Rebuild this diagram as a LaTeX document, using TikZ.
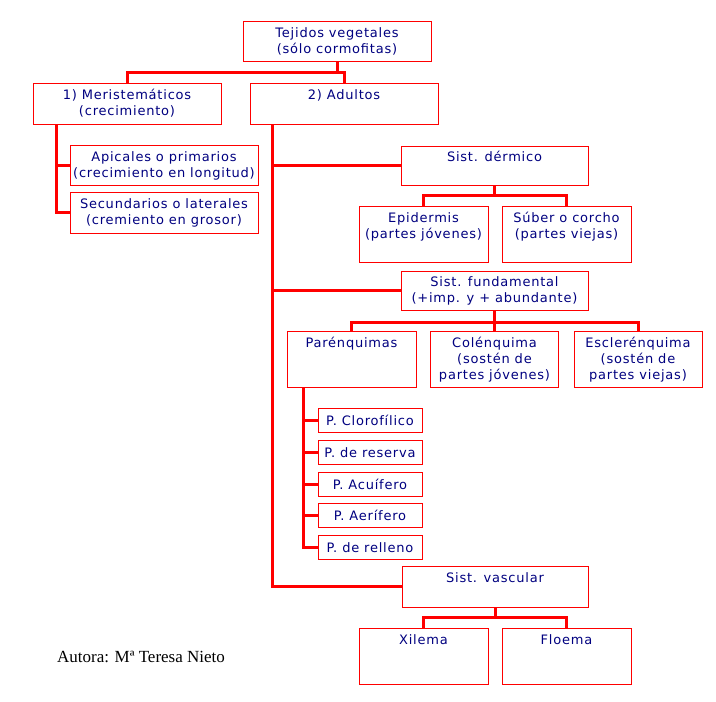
\documentclass[tikz,border=0pt]{standalone}
\usepackage{fontspec}
\newfontfamily\boxfont{DejaVu Sans}[LetterSpace=6]
\newfontfamily\authorfont{Liberation Serif}
\usepackage{tikz}
\usetikzlibrary{positioning}
\definecolor{linkred}{RGB}{255,0,0}
\definecolor{textnavy}{RGB}{0,0,128}

\begin{document}
\begin{tikzpicture}[x=1pt,y=-1pt,
  box/.style={draw=linkred,line width=1pt,fill=white,inner sep=0pt},
  txt/.style={text=textnavy,font=\boxfont\fontsize{13}{16}\selectfont,align=center,inner sep=0pt},
  link/.style={draw=linkred,line width=3pt}]
\useasboundingbox[fill=white] (0,0) rectangle (716,702);

% top levels
\node[box,minimum width=188pt,minimum height=40pt] (root) at (337,41) {};
\node[txt,below=6.5pt of root.north] (rootT) {Tejidos vegetales\\(sólo cormofitas)};
\node[box,minimum width=188pt,minimum height=41pt] (meri) at (127,103.5) {};
\node[txt,below=6.5pt of meri.north] (meriT) {1) Meristemáticos\\(crecimiento)};
\node[box,minimum width=188pt,minimum height=41pt] (adult) at (344,103.5) {};
\node[txt,below=6.5pt of adult.north] (adultT) {2) Adultos};

% meristematicos
\node[box,minimum width=188pt,minimum height=40pt] (apic) at (164,165) {};
\node[txt,below=6.5pt of apic.north] (apicT) {Apicales o primarios\\(crecimiento en longitud)};
\node[box,minimum width=188pt,minimum height=41pt] (secu) at (164,212.5) {};
\node[txt,below=6.5pt of secu.north] (secuT) {Secundarios o laterales\\(cremiento en grosor)};

% sistema dermico
\node[box,minimum width=187pt,minimum height=39pt] (derm) at (494.5,165.5) {};
\node[txt,below=5.5pt of derm.north] (dermT) {Sist. dérmico};
\node[box,minimum width=129pt,minimum height=56pt] (epid) at (423.5,234) {};
\node[txt,below=6.5pt of epid.north] (epidT) {Epidermis\\(partes jóvenes)};
\node[box,minimum width=129pt,minimum height=56pt] (suber) at (566.5,234) {};
\node[txt,below=6.5pt of suber.north] (suberT) {Súber o corcho\\(partes viejas)};

% sistema fundamental
\node[box,minimum width=187pt,minimum height=39pt] (fund) at (494.5,290.5) {};
\node[txt,below=5.5pt of fund.north] (fundT) {Sist. fundamental\\(+imp. y + abundante)};
\node[box,minimum width=129pt,minimum height=56pt] (parenq) at (351.5,359) {};
\node[txt,below=6.5pt of parenq.north] (parenqT) {Parénquimas};
\node[box,minimum width=128pt,minimum height=56pt] (colen) at (494.5,359) {};
\node[txt,below=6.5pt of colen.north] (colenT) {Colénquima\\(sostén de\\partes jóvenes)};
\node[box,minimum width=128pt,minimum height=56pt] (escler) at (638,359) {};
\node[txt,below=6.5pt of escler.north] (esclerT) {Esclerénquima\\(sostén de\\partes viejas)};

% parenquimas
\node[box,txt,draw=linkred,minimum width=104pt,minimum height=24pt] (pclor) at (370,420.5) {P. Clorofílico};
\node[box,txt,draw=linkred,minimum width=104pt,minimum height=24pt] (pres) at (370,452.25) {P. de reserva};
\node[box,txt,draw=linkred,minimum width=104pt,minimum height=24pt] (pacu) at (370,484) {P. Acuífero};
\node[box,txt,draw=linkred,minimum width=104pt,minimum height=24pt] (paer) at (370,515.75) {P. Aerífero};
\node[box,txt,draw=linkred,minimum width=104pt,minimum height=24pt] (prell) at (370,547.5) {P. de relleno};

% sistema vascular
\node[box,minimum width=186pt,minimum height=41pt] (vasc) at (495,586.5) {};
\node[txt,below=6.5pt of vasc.north] (vascT) {Sist. vascular};
\node[box,minimum width=129pt,minimum height=56pt] (xilem) at (423.5,656) {};
\node[txt,below=6.5pt of xilem.north] (xilemT) {Xilema};
\node[box,minimum width=129pt,minimum height=56pt] (floem) at (566.5,656) {};
\node[txt,below=6.5pt of floem.north] (floemT) {Floema};

\node[font=\authorfont\fontsize{17}{19}\selectfont,inner sep=0pt] (author) at (141,657) {Autora: Mª Teresa Nieto};

% connectors
\coordinate (j0) at ([yshift=-11pt]root.south);
\draw[link] (root.south) -- (j0);
\draw[link] (meri.north) |- (j0) -| (adult.north);
\coordinate (m0) at ([xshift=24pt]meri.south west);
\draw[link] (m0) |- (apic.west);
\draw[link] (m0) |- (secu.west);
\coordinate (a0) at ([xshift=23pt]adult.south west);
\draw[link] (a0) |- (derm.west);
\draw[link] (a0) |- (fund.west);
\draw[link] (a0) |- (vasc.west);
\coordinate (d0) at ([yshift=-10pt]derm.south);
\draw[link] (derm.south) -- (d0);
\draw[link] (epid.north) |- (d0) -| (suber.north);
\coordinate (f0) at ([yshift=-12pt]fund.south);
\draw[link] (fund.south) -- (colen.north);
\draw[link] (parenq.north) |- (f0) -| (escler.north);
\coordinate (p0) at ([xshift=17pt]parenq.south west);
\draw[link] (p0) |- (pclor.west);
\draw[link] (p0) |- (pres.west);
\draw[link] (p0) |- (pacu.west);
\draw[link] (p0) |- (paer.west);
\draw[link] (p0) |- (prell.west);
\coordinate (v0) at ([yshift=-10pt]vasc.south);
\draw[link] (vasc.south) -- (v0);
\draw[link] (xilem.north) |- (v0) -| (floem.north);
\end{tikzpicture}
\end{document}
